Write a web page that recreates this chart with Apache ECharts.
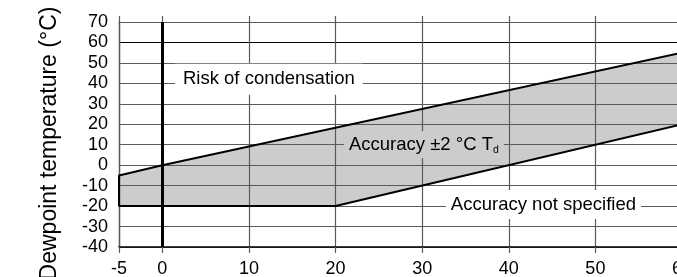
<!DOCTYPE html>
<html>
<head>
<meta charset="utf-8">
<script src="https://cdn.jsdelivr.net/npm/echarts@6/dist/echarts.min.js"></script>
<style>
html, body { margin: 0; padding: 0; background: #fff; }
#chart { width: 677px; height: 277px; }
</style>
</head>
<body>
<div id="chart"></div>
<script>
// axis ticks
var xTicks = [-5, 0, 10, 20, 30, 40, 50, 60];
var yMin = -40, yMax = 70, yStep = 10;

// edges of the "accuracy ±2 °C" band
var upperEdge = [[-5, -5], [0, 0], [60, 55]];
var lowerEdge = [[-5, -20], [20, -20], [60, 20]];
var bandOutline = upperEdge.slice().reverse().concat(lowerEdge);

var noteTexts = ['Risk of condensation', '{a|Accuracy ±2 °C T}{s|d}', 'Accuracy not specified'];

var grey = '#5a5a5a';
// y split lines from -40 to 70, the 60 one is drawn black
var ySplitColors = [grey, grey, grey, grey, grey, grey, grey, grey, grey, grey, '#000', grey];

var chart = echarts.init(document.getElementById('chart'));

var option = {
    animation: false,
    textStyle: { fontFamily: 'Liberation Sans, Arial, sans-serif', color: '#000' },
    grid: { left: 119, right: -5, top: 22, bottom: 30, containLabel: false, outerBoundsMode: 'none' },
    xAxis: [{
        type: 'value', min: -5, max: 60, position: 'bottom',
        axisLine: { onZero: false, lineStyle: { color: '#000', width: 1.5 } },
        axisTick: { customValues: xTicks, length: 6, lineStyle: { color: grey, width: 1.2 } },
        axisLabel: { customValues: xTicks, margin: 13, fontSize: 18, color: '#000' },
        splitLine: { show: true, lineStyle: { color: grey, width: 1.2 } }
    }, {
        type: 'value', min: -5, max: 60, position: 'top',
        axisLine: { onZero: false, lineStyle: { color: grey, width: 1.2 } },
        axisTick: { customValues: xTicks, length: 6, lineStyle: { color: grey, width: 1.2 } },
        axisLabel: { show: false },
        splitLine: { show: false }
    }],
    yAxis: {
        type: 'value', min: yMin, max: yMax, interval: yStep,
        name: 'Dewpoint temperature (°C)',
        nameLocation: 'middle', nameGap: 58,
        nameTextStyle: { fontSize: 23, color: '#000', padding: [0, 18, 0, 0] },
        axisLine: { show: true, onZero: false, lineStyle: { color: grey, width: 1.4 } },
        axisTick: { show: false },
        axisLabel: { margin: 11, fontSize: 18, color: '#000' },
        splitLine: { lineStyle: { color: ySplitColors, width: 1.2 } }
    },
    series: [{
        // grey band, kept under the grid lines
        type: 'custom',
        z: -1,
        data: bandOutline,
        renderItem: function (params, api) {
            if (params.dataIndex !== 0) return null;
            return {
                type: 'polygon',
                shape: { points: bandOutline.map(function (p) { return api.coord(p); }) },
                style: { fill: '#cccccc' }
            };
        }
    }, {
        type: 'line',
        data: bandOutline,
        symbol: 'none',
        z: 3,
        lineStyle: { color: '#000', width: 2 },
        markLine: {
            silent: true,
            symbol: 'none',
            label: { show: false },
            lineStyle: { color: '#000', width: 3, type: 'solid' },
            data: [{ xAxis: 0 }]
        },
        markPoint: {
            symbol: 'rect',
            symbolSize: 0,
            silent: true,
            label: { show: true, position: 'inside', fontSize: 18.5, color: '#000' },
            data: [
                { coord: [12.3, 42], label: { formatter: noteTexts[0], backgroundColor: '#fff', padding: [6, 8] } },
                { coord: [30.2, 10], label: {
                    formatter: noteTexts[1], backgroundColor: '#cccccc', padding: [3, 5],
                    rich: {
                        a: { fontSize: 18.5, lineHeight: 21, color: '#000' },
                        s: { fontSize: 10.5, lineHeight: 12, verticalAlign: 'bottom', color: '#000' }
                    }
                } },
                { coord: [44, -19.2], label: { formatter: noteTexts[2], backgroundColor: '#fff', padding: [5, 5] } }
            ]
        }
    }]
};

chart.setOption(option);
</script>
</body>
</html>
